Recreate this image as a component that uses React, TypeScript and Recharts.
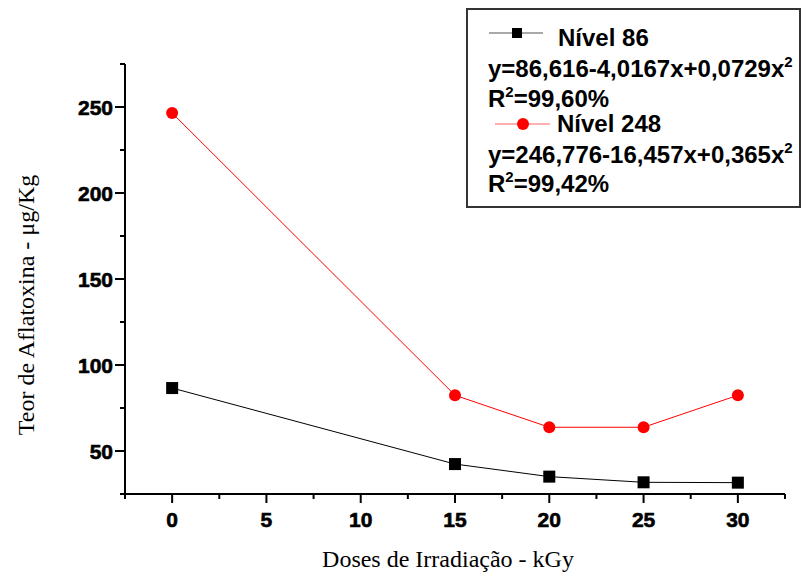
import React from 'react';
import { LineChart, Line, XAxis, YAxis } from 'recharts';

const doses = [0, 15, 20, 25, 30];
const nivel86 = [86.6, 42.4, 35.1, 31.8, 31.6];
const nivel248 = [246.5, 82.4, 63.8, 63.8, 82.4];

const xTicks = [-2.5, 0, 2.5, 5, 7.5, 10, 12.5, 15, 17.5, 20, 22.5, 25, 27.5, 30, 32.5];
const yTicks = [25, 50, 75, 100, 125, 150, 175, 200, 225, 250, 275];

const data = doses.map((d, i) => ({ dose: d, n86: nivel86[i], n248: nivel248[i] }));

const sans = 'Liberation Sans, Arial, sans-serif';
const serif = 'Liberation Serif, Times New Roman, serif';

function XTick(props: any) {
    const { x, y, payload } = props;
    const major = payload.value % 5 === 0;
    return (
        <g>
            <line x1={x} y1={y} x2={x} y2={y + (major ? 9 : 5)} stroke="#000" strokeWidth={2} />
            {major && (
                <text x={x} y={y + 33} textAnchor="middle" fill="#000" stroke="#000" strokeWidth={0.6}
                      fontFamily={sans} fontWeight={700} fontSize={21}>
                    {String(payload.value)}
                </text>
            )}
        </g>
    );
}

function YTick(props: any) {
    const { x, y, payload } = props;
    const major = payload.value % 50 === 0;
    return (
        <g>
            <line x1={x} y1={y} x2={x - (major ? 10 : 5)} y2={y} stroke="#000" strokeWidth={2} />
            {major && (
                <text x={x - 12} y={y + 8} textAnchor="end" fill="#000" stroke="#000" strokeWidth={0.6}
                      fontFamily={sans} fontWeight={700} fontSize={21}>
                    {String(payload.value)}
                </text>
            )}
        </g>
    );
}

function XTitle() {
    return (
        <text x={448} y={567} textAnchor="middle" fill="#000" fontFamily={serif} fontSize={24}>
            Doses de Irradiação - kGy
        </text>
    );
}

function YTitle() {
    return (
        <text x={34} y={305} textAnchor="middle" fill="#000" fontFamily={serif} fontSize={24}
              transform="rotate(-90, 34, 305)">
            Teor de Aflatoxina - μg/Kg
        </text>
    );
}

function SquareDot(props: any) {
    const { cx, cy, index } = props;
    return <rect key={index} x={cx - 6} y={cy - 6} width={12} height={12} fill="#000" />;
}

const legendFont = { fontFamily: sans, fontWeight: 700, fontSize: 24 };

function LegendBox() {
    return (
        <svg width={804} height={576} style={{ position: 'absolute', left: 0, top: 0, pointerEvents: 'none' }}>
            <rect x={467} y={9} width={333} height={198} fill="#fff" stroke="#333" strokeWidth={2} />
            <line x1={489} y1={33} x2={543} y2={33} stroke="#555" strokeWidth={1} />
            <rect x={512} y={28} width={10} height={10} fill="#000" />
            <text x={558} y={46} style={legendFont}>Nível 86</text>
            <text x={488} y={77} style={legendFont}>
                y=86,616-4,0167x+0,0729x<tspan dy={-10} fontSize={15}>2</tspan>
            </text>
            <text x={488} y={107} style={legendFont}>
                R<tspan dy={-10} fontSize={15}>2</tspan><tspan dy={10}>=99,60%</tspan>
            </text>
            <line x1={495} y1={124} x2={550} y2={124} stroke="#ff6060" strokeWidth={1} />
            <circle cx={523} cy={124} r={6} fill="#ff0000" />
            <text x={557} y={132} style={legendFont}>Nível 248</text>
            <text x={488} y={163} style={legendFont}>
                y=246,776-16,457x+0,365x<tspan dy={-10} fontSize={15}>2</tspan>
            </text>
            <text x={488} y={192} style={legendFont}>
                R<tspan dy={-10} fontSize={15}>2</tspan><tspan dy={10}>=99,42%</tspan>
            </text>
        </svg>
    );
}

export default function App() {
    return (
        <div style={{ position: 'absolute', left: 0, top: 0, width: 804, height: 576, background: '#fff' }}>
            <LineChart width={804} height={576} data={data} margin={{ top: 64, right: 19, bottom: 0, left: 0 }}>
                <XAxis dataKey="dose" type="number" domain={[-2.5, 32.5]} ticks={xTicks} interval={0}
                       height={82} axisLine={{ stroke: '#000', strokeWidth: 2 }} tickLine={false}
                       tickSize={0} tickMargin={0} tick={<XTick />} label={<XTitle />} />
                <YAxis type="number" domain={[25, 275]} ticks={yTicks} interval={0} width={125}
                       axisLine={{ stroke: '#000', strokeWidth: 2 }} tickLine={false}
                       tickSize={0} tickMargin={0} tick={<YTick />} label={<YTitle />} />
                <Line type="linear" dataKey="n86" stroke="#000" strokeWidth={1} dot={<SquareDot />}
                      activeDot={false} isAnimationActive={false} />
                <Line type="linear" dataKey="n248" stroke="#ff0000" strokeWidth={1}
                      dot={{ r: 6, fill: '#ff0000', stroke: '#ff0000', strokeWidth: 0 }}
                      activeDot={false} isAnimationActive={false} />
            </LineChart>
            <LegendBox />
        </div>
    );
}
